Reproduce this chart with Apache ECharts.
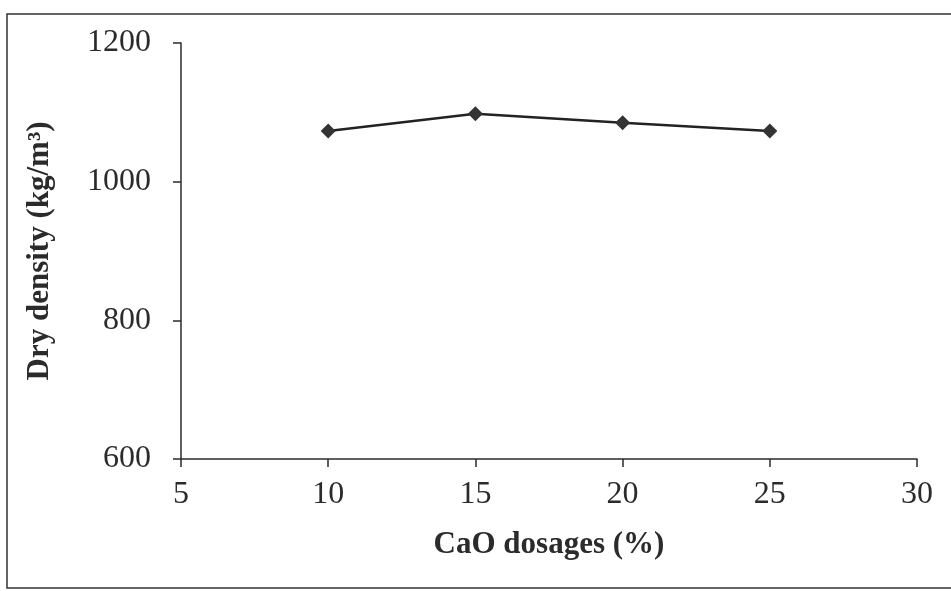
<!DOCTYPE html>
<html>
<head>
<meta charset="utf-8">
<script src="https://cdn.jsdelivr.net/npm/echarts@6/dist/echarts.min.js"></script>
<style>
  html,body{margin:0;padding:0;background:#fff;}
  #chart{width:951px;height:591px;}
</style>
</head>
<body>
<div id="chart"></div>
<script>
// CaO dosage (%) vs dry density (kg/m3)
const dosages = [10, 15, 20, 25]
const dryDensity = [1073, 1098, 1085, 1073]

const xTicks = {min: 5, max: 30, interval: 5}
const yTicks = {min: 600, max: 1200, interval: 200}

const serif = '"Liberation Serif", "DejaVu Serif", serif'
const ink = '#2b2b2b'

const chart = echarts.init(document.getElementById('chart'))

const option = {
  backgroundColor: '#fff',
  animation: false,
  graphic: [{
    type: 'rect',
    shape: {x: 7, y: 14, width: 960, height: 574},
    style: {fill: 'none', stroke: '#333', lineWidth: 1.5},
    silent: true
  }],
  grid: {left: 181, right: 34, top: 43, bottom: 132},
  xAxis: {
    type: 'value',
    min: xTicks.min, max: xTicks.max, interval: xTicks.interval,
    name: 'CaO dosages (%)',
    nameLocation: 'middle',
    nameGap: 70,
    nameTextStyle: {fontFamily: serif, fontSize: 31, fontWeight: 'bold', color: ink},
    axisLine: {lineStyle: {color: ink, width: 1.5}},
    axisTick: {show: true, length: 8, lineStyle: {color: ink, width: 1.5}},
    axisLabel: {fontFamily: serif, fontSize: 32, color: ink, margin: 20, formatter: v => String(v)},
    splitLine: {show: false}
  },
  yAxis: {
    type: 'value',
    min: yTicks.min, max: yTicks.max, interval: yTicks.interval,
    name: 'Dry density (kg/m³)',
    nameLocation: 'middle',
    nameGap: 126,
    nameTextStyle: {fontFamily: serif, fontSize: 31, fontWeight: 'bold', color: ink},
    axisLine: {show: true, lineStyle: {color: ink, width: 1.5}},
    axisTick: {show: true, length: 8, lineStyle: {color: ink, width: 1.5}},
    axisLabel: {fontFamily: serif, fontSize: 32, color: ink, margin: 30, formatter: v => String(v)},
    splitLine: {show: false}
  },
  series: [{
    type: 'line',
    data: dosages.map((d, i) => [d, dryDensity[i]]),
    symbol: 'diamond',
    symbolSize: 15,
    lineStyle: {color: '#222', width: 2.5},
    itemStyle: {color: '#333'}
  }]
}

chart.setOption(option)
</script>
</body>
</html>
